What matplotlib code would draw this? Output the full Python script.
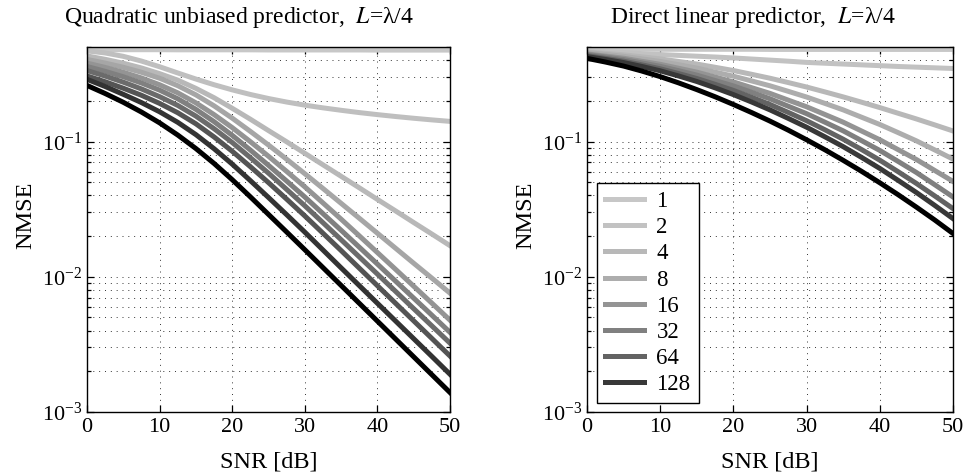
import matplotlib
matplotlib.use("Agg")
import numpy as np
import matplotlib.pyplot as plt
from matplotlib.ticker import LogLocator, NullFormatter, FixedLocator

plt.rcParams['font.family'] = ['Liberation Serif', 'DejaVu Serif']
plt.rcParams['mathtext.fontset'] = 'stix'

# ---------------- data (NMSE given in dB) ----------------
snr_db = [0, 2.5, 5, 7.5, 10, 12.5, 15, 17.5, 20, 22.5, 25,
          27.5, 30, 32.5, 35, 37.5, 40, 42.5, 45, 47.5, 50]

# Left panel: quadratic unbiased predictor (top curve to bottom curve)
quad_c1 = [-3.20, -3.20, -3.21, -3.21, -3.21, -3.22, -3.22, -3.22, -3.22, -3.22, -3.23,
           -3.23, -3.23, -3.23, -3.23, -3.23, -3.24, -3.24, -3.24, -3.24, -3.24]
quad_c2 = [-3.30, -3.45, -3.70, -4.05, -4.47, -4.93, -5.38, -5.80, -6.18, -6.52, -6.82,
           -7.08, -7.31, -7.51, -7.69, -7.86, -8.01, -8.15, -8.28, -8.40, -8.51]
quad_c3 = [-3.67, -3.92, -4.21, -4.56, -4.98, -5.46, -6.07, -6.76, -7.54, -8.35, -9.19,
           -10.02, -10.87, -11.72, -12.57, -13.42, -14.28, -15.13, -15.99, -16.84, -17.70]
quad_c4 = [-3.93, -4.20, -4.51, -4.88, -5.32, -5.87, -6.55, -7.36, -8.27, -9.25, -10.26,
           -11.31, -12.38, -13.47, -14.57, -15.67, -16.78, -17.89, -19.00, -20.10, -21.21]
quad_c5 = [-4.20, -4.52, -4.88, -5.30, -5.80, -6.40, -7.14, -8.01, -8.97, -10.01, -11.09,
           -12.21, -13.35, -14.54, -15.74, -16.97, -18.21, -19.45, -20.70, -21.95, -23.21]
quad_c6 = [-4.45, -4.81, -5.21, -5.67, -6.20, -6.84, -7.62, -8.53, -9.54, -10.63, -11.76,
           -12.92, -14.10, -15.33, -16.56, -17.81, -19.06, -20.32, -21.58, -22.84, -24.11]
quad_c7 = [-4.75, -5.16, -5.61, -6.11, -6.68, -7.33, -8.12, -9.05, -10.07, -11.19, -12.34,
           -13.54, -14.75, -16.00, -17.26, -18.53, -19.80, -21.08, -22.36, -23.63, -24.91]
quad_c8 = [-5.15, -5.58, -6.06, -6.58, -7.18, -7.87, -8.69, -9.66, -10.72, -11.86, -13.04,
           -14.26, -15.50, -16.78, -18.06, -19.36, -20.66, -21.96, -23.26, -24.56, -25.86]
quad_c9 = [-5.40, -5.93, -6.51, -7.12, -7.80, -8.58, -9.49, -10.53, -11.67, -12.89, -14.14,
           -15.41, -16.70, -18.02, -19.34, -20.65, -21.96, -23.27, -24.58, -25.89, -27.21]
quad_c10 = [-5.85, -6.45, -7.10, -7.82, -8.62, -9.52, -10.52, -11.62, -12.82, -14.09, -15.39,
            -16.69, -18.00, -19.32, -20.64, -21.96, -23.28, -24.60, -25.92, -27.24, -28.56]
quad_grays = [0.78, 0.75, 0.72, 0.65, 0.58, 0.50, 0.42, 0.33, 0.20, 0.0]

# Right panel: direct linear predictor (top curve to bottom curve)
lin_c1 = [-3.17, -3.17, -3.17, -3.17, -3.18, -3.18, -3.18, -3.18, -3.18, -3.18, -3.19,
          -3.19, -3.19, -3.19, -3.19, -3.19, -3.19, -3.19, -3.19, -3.19, -3.19]
lin_c2 = [-3.32, -3.37, -3.42, -3.50, -3.57, -3.63, -3.69, -3.75, -3.82, -3.90, -3.98,
          -4.06, -4.15, -4.21, -4.27, -4.33, -4.39, -4.45, -4.50, -4.55, -4.60]
lin_c3 = [-3.37, -3.48, -3.59, -3.74, -3.89, -4.08, -4.27, -4.51, -4.75, -5.03, -5.32,
          -5.64, -5.97, -6.33, -6.70, -7.09, -7.49, -7.91, -8.33, -8.77, -9.22]
lin_c4 = [-3.42, -3.56, -3.70, -3.89, -4.08, -4.32, -4.57, -4.87, -5.17, -5.52, -5.88,
          -6.29, -6.71, -7.18, -7.66, -8.20, -8.74, -9.34, -9.95, -10.62, -11.30]
lin_c5 = [-3.52, -3.68, -3.84, -4.07, -4.29, -4.58, -4.87, -5.23, -5.59, -6.02, -6.44,
          -6.94, -7.43, -8.00, -8.57, -9.22, -9.87, -10.60, -11.33, -12.14, -12.95]
lin_c6 = [-3.57, -3.75, -3.94, -4.19, -4.44, -4.76, -5.09, -5.49, -5.89, -6.36, -6.84,
          -7.39, -7.94, -8.57, -9.21, -9.93, -10.66, -11.47, -12.29, -13.19, -14.10]
lin_c7 = [-3.65, -3.85, -4.06, -4.33, -4.62, -4.97, -5.34, -5.77, -6.22, -6.73, -7.26,
          -7.85, -8.46, -9.13, -9.83, -10.59, -11.38, -12.23, -13.10, -14.02, -14.96]
lin_c8 = [-3.72, -3.93, -4.16, -4.45, -4.77, -5.15, -5.56, -6.03, -6.53, -7.08, -7.66,
          -8.29, -8.94, -9.65, -10.38, -11.17, -11.99, -12.87, -13.77, -14.72, -15.70]
lin_c9 = [-3.85, -4.12, -4.42, -4.79, -5.20, -5.66, -6.16, -6.69, -7.26, -7.86, -8.49,
          -9.16, -9.87, -10.61, -11.39, -12.20, -13.05, -13.93, -14.85, -15.80, -16.80]
lin_grays = [0.78, 0.76, 0.72, 0.68, 0.58, 0.50, 0.39, 0.22, 0.0]

legend_labels = ['1', '2', '4', '8', '16', '32', '64', '128']
x_ticks = [0, 10, 20, 30, 40, 50]
y_ticks = [1e-3, 1e-2, 1e-1]

titles = ['Quadratic unbiased predictor,  $\\mathit{L}$=\u03bb/4',
          'Direct linear predictor,  $\\mathit{L}$=\u03bb/4']

quad_curves = [quad_c1, quad_c2, quad_c3, quad_c4, quad_c5,
               quad_c6, quad_c7, quad_c8, quad_c9, quad_c10]
lin_curves = [lin_c1, lin_c2, lin_c3, lin_c4, lin_c5,
              lin_c6, lin_c7, lin_c8, lin_c9]


def from_db(v):
    return 10.0 ** (np.asarray(v) / 10.0)


# ---------------- figure ----------------
fig = plt.figure(figsize=(9.73, 4.76), dpi=100)
ax1 = fig.add_axes([87 / 973, 64 / 476, 363 / 973, 365 / 476])
ax2 = fig.add_axes([587 / 973, 64 / 476, 366 / 973, 365 / 476])

grid_style = dict(color='k', linestyle=(0, (1, 5)), linewidth=0.7, alpha=0.8)


def style_axes(ax, title, title_x):
    ax.set_yscale('log')
    ax.set_xlim(0, 50)
    ax.set_ylim(1e-3, 0.5)
    ax.xaxis.set_major_locator(FixedLocator(x_ticks))
    ax.yaxis.set_major_locator(FixedLocator(y_ticks))
    ax.yaxis.set_minor_locator(LogLocator(base=10, subs=range(2, 10)))
    ax.yaxis.set_minor_formatter(NullFormatter())
    ax.tick_params(which='both', direction='in', top=True, right=True,
                   labelsize=16, width=0.9)
    ax.tick_params(which='major', length=5)
    ax.tick_params(which='minor', length=3)
    ax.tick_params(axis='x', pad=4)
    ax.grid(True, which='major', axis='both', **grid_style)
    ax.grid(True, which='minor', axis='y', **grid_style)
    for s in ax.spines.values():
        s.set_linewidth(1.0)
    ax.set_xlabel('SNR [dB]', fontsize=17.5, labelpad=10.5)
    ax.set_ylabel('NMSE', fontsize=17.5, labelpad=4, y=0.54)
    ax.set_title(title, fontsize=17, pad=17, x=title_x)


for vals, g in zip(quad_curves, quad_grays):
    ax1.plot(snr_db, from_db(vals), color=str(g), linewidth=3.6)

for i, (vals, g) in enumerate(zip(lin_curves, lin_grays)):
    lab = legend_labels[i] if i < len(legend_labels) else '_nolegend_'
    ax2.plot(snr_db, from_db(vals), color=str(g), linewidth=3.6, label=lab)

style_axes(ax1, titles[0], 0.418)
style_axes(ax2, titles[1], 0.454)

leg = ax2.legend(loc='lower left', bbox_to_anchor=(0.027, 0.025),
                 borderaxespad=0, fontsize=16.5, frameon=True, fancybox=False,
                 edgecolor='k', handlelength=1.7, handletextpad=0.55,
                 labelspacing=0.22, borderpad=0.35)
leg.get_frame().set_linewidth(1.0)
leg.get_frame().set_alpha(1)

fig.savefig('out.png', dpi=100)
